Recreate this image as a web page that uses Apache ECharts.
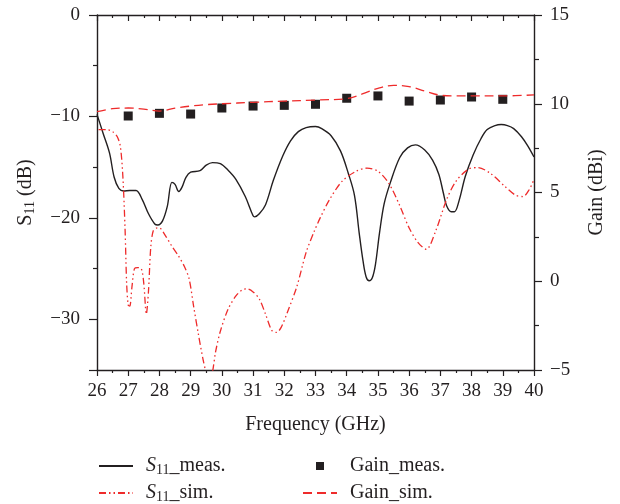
<!DOCTYPE html>
<html>
<head>
<meta charset="utf-8">
<script src="https://cdn.jsdelivr.net/npm/echarts@6/dist/echarts.min.js"></script>
<style>
  html, body { margin: 0; padding: 0; background: #fff; }
  #chart { width: 620px; height: 504px; }
</style>
</head>
<body>
<div id="chart"></div>
<script>
// Measured reflection coefficient S11 (dB) vs frequency (GHz)
const s11MeasFreq = [26.0, 26.2, 26.4, 26.55, 26.7, 26.85, 27.05, 27.25, 27.45, 27.65, 27.85, 27.95, 28.1, 28.25, 28.4, 28.5, 28.62, 28.72, 28.85, 29.0, 29.3, 29.5, 29.7, 29.95, 30.2, 30.45, 30.75, 31.0, 31.05, 31.2, 31.4, 31.65, 31.95, 32.2, 32.45, 32.7, 33.0, 33.2, 33.5, 33.8, 34.05, 34.25, 34.4, 34.52, 34.62, 34.72, 34.82, 34.92, 35.05, 35.2, 35.4, 35.7, 35.95, 36.2, 36.5, 36.75, 36.95, 37.1, 37.2, 37.35, 37.45, 37.6, 37.8, 38.05, 38.3, 38.5, 38.75, 38.95, 39.15, 39.35, 39.6, 39.8, 40.0];
const s11MeasDb = [-9.8, -11.7, -13.6, -16.0, -17.1, -17.35, -17.3, -17.3, -18.2, -19.6, -20.6, -20.7, -20.3, -18.9, -16.5, -16.7, -17.4, -17.0, -16.0, -15.5, -15.35, -14.8, -14.55, -14.65, -15.3, -16.2, -17.9, -19.8, -19.9, -19.6, -18.7, -16.3, -13.9, -12.4, -11.5, -11.1, -11.0, -11.2, -11.9, -13.4, -15.6, -17.8, -21.5, -24.2, -25.8, -26.2, -25.9, -24.6, -21.5, -18.6, -16.5, -14.05, -13.1, -12.8, -13.3, -14.3, -15.7, -17.6, -18.8, -19.4, -19.4, -18.3, -15.9, -13.8, -12.2, -11.3, -10.9, -10.8, -10.9, -11.2, -12.0, -12.9, -14.0];

// Simulated S11 (dB)
const s11SimFreq = [26.05, 26.3, 26.5, 26.65, 26.75, 26.83, 26.9, 26.95, 27.0, 27.05, 27.12, 27.2, 27.3, 27.42, 27.5, 27.58, 27.65, 27.72, 27.8, 27.92, 28.0, 28.2, 28.4, 28.6, 28.8, 28.95, 29.1, 29.25, 29.4, 29.5, 29.6, 29.7, 29.8, 29.95, 30.2, 30.45, 30.65, 30.8, 31.0, 31.2, 31.4, 31.6, 31.75, 31.9, 32.1, 32.4, 32.7, 32.95, 33.15, 33.45, 33.85, 34.3, 34.65, 35.0, 35.35, 35.7, 36.0, 36.3, 36.55, 36.85, 37.2, 37.5, 37.9, 38.2, 38.6, 39.05, 39.4, 39.65, 39.85, 40.0];
const s11SimDb = [-11.3, -11.3, -11.5, -12.0, -13.0, -16.0, -21.2, -26.5, -28.6, -28.7, -26.8, -25.0, -24.9, -25.0, -26.5, -29.5, -27.2, -23.0, -21.3, -21.0, -21.0, -21.8, -22.8, -23.7, -24.8, -26.0, -28.8, -31.5, -34.0, -35.3, -36.2, -35.2, -33.2, -31.2, -29.0, -27.7, -27.1, -27.0, -27.3, -28.0, -29.5, -31.1, -31.3, -30.8, -29.3, -26.8, -23.4, -21.4, -20.0, -18.2, -16.4, -15.4, -15.1, -15.4, -16.6, -18.8, -21.0, -22.5, -23.1, -21.3, -18.2, -16.4, -15.2, -15.05, -15.6, -16.85, -17.75, -17.9, -17.2, -16.2];

// Measured gain (dBi)
const gainMeasFreq = [27, 28, 29, 30, 31, 32, 33, 34, 35, 36, 37, 38, 39];
const gainMeasDbi = [9.31, 9.46, 9.42, 9.76, 9.87, 9.91, 9.97, 10.31, 10.44, 10.15, 10.21, 10.38, 10.25];

// Simulated gain (dBi)
const gainSimFreq = [26.0, 26.5, 27.0, 27.5, 28.0, 28.5, 29.0, 29.5, 30.0, 31.0, 32.0, 33.0, 34.0, 34.5, 35.0, 35.5, 36.0, 36.5, 37.0, 37.5, 38.0, 39.0, 40.0];
const gainSimDbi = [9.55, 9.72, 9.76, 9.7, 9.59, 9.75, 9.87, 9.95, 10.0, 10.08, 10.15, 10.21, 10.29, 10.55, 10.87, 11.04, 10.97, 10.72, 10.48, 10.44, 10.44, 10.44, 10.5];

// Legend names and axis titles
const seriesNames = ['S11_meas.', 'S11_sim.', 'Gain_meas.', 'Gain_sim.'];
const xTitle = 'Frequency (GHz)';
const gainTitle = 'Gain (dBi)';

const zip = (xs, ys) => xs.map((x, i) => [x, ys[i]]);

const INK = '#231f20';
const RED = '#ee2b2b';
const FONT = 'Liberation Serif';
const FS = 19;   // tick labels
const FT = 20;   // titles and legend

const rich = {
  i: { fontStyle: 'italic', fontFamily: FONT, fontSize: FT, color: INK, lineHeight: 22 },
  s: { fontFamily: FONT, fontSize: 14, color: INK, lineHeight: 14, verticalAlign: 'bottom' },
  t: { fontFamily: FONT, fontSize: FT, color: INK, lineHeight: 22 },
  u: { fontFamily: FONT, fontSize: FT, color: INK, lineHeight: 22 }
};

// S11 names: italic S with subscript 11
function richName(name) {
  if (name.indexOf('S11') === 0) return '{i|S}{s|11}{t|' + name.slice(3) + '}';
  return '{t|' + name + '}';
}

function legendFor(name, left, top, itemWidth, itemHeight, textGap, hideMarker) {
  const lg = {
    data: [name],
    left: left,
    top: top,
    padding: 0,
    orient: 'horizontal',
    itemWidth: itemWidth,
    itemHeight: itemHeight,
    selectedMode: false,
    formatter: richName,
    textStyle: { fontFamily: FONT, fontSize: FT, color: INK, padding: [0, 0, 0, textGap], rich: rich }
  };
  // line entries: show only the stroke, no marker in the middle
  if (hideMarker) lg.itemStyle = { color: 'rgba(0,0,0,0)', borderColor: 'rgba(0,0,0,0)', borderWidth: 0 };
  return lg;
}

const axisLineStyle = { color: INK, width: 1.4 };
const labelStyle = { fontFamily: FONT, fontSize: FS, color: INK };
const titleStyle = { fontFamily: FONT, fontSize: FT, color: INK };

const chart = echarts.init(document.getElementById('chart'), null, { renderer: 'canvas' });

chart.setOption({
  animation: false,
  backgroundColor: '#fff',
  grid: { left: 97, top: 15, width: 437, height: 355, containLabel: false },
  legend: [
    legendFor(seriesNames[0], 98, 456, 34, 14, 8, true),
    legendFor(seriesNames[1], 98, 483, 34, 14, 8, true),
    legendFor(seriesNames[2], 316, 456, 8, 8, 21, false),
    legendFor(seriesNames[3], 302, 483, 34, 14, 8, true)
  ],
  xAxis: [
    {
      type: 'value', min: 26, max: 40, interval: 1, position: 'bottom',
      axisLine: { onZero: false, lineStyle: axisLineStyle },
      axisTick: { inside: false, length: 6, lineStyle: { color: INK, width: 1.2 } },
      minorTick: { show: true, splitNumber: 2, length: 3, lineStyle: { color: INK, width: 1.2 } },
      splitLine: { show: false },
      axisLabel: Object.assign({ margin: 12 }, labelStyle),
      name: xTitle, nameLocation: 'middle', nameGap: 45,
      nameTextStyle: titleStyle
    },
    {
      type: 'value', min: 26, max: 40, interval: 1, position: 'top',
      axisLine: { onZero: false, lineStyle: axisLineStyle },
      axisTick: { inside: true, length: 6, lineStyle: { color: INK, width: 1.2 } },
      minorTick: { show: true, splitNumber: 2, length: 3, lineStyle: { color: INK, width: 1.2 } },
      splitLine: { show: false },
      axisLabel: { show: false }
    }
  ],
  yAxis: [
    // S11 scale used by the data
    { type: 'value', min: -35, max: 0, show: false, splitLine: { show: false } },
    // Gain scale (right)
    {
      type: 'value', min: -5, max: 15, interval: 5, position: 'right',
      axisLine: { show: true, onZero: false, lineStyle: axisLineStyle },
      axisTick: { show: true, inside: false, length: 8, lineStyle: { color: INK, width: 1.2 } },
      minorTick: { show: true, splitNumber: 2, length: 5, lineStyle: { color: INK, width: 1.2 } },
      splitLine: { show: false },
      axisLabel: Object.assign({ margin: 16, formatter: v => (v < 0 ? '\u2212' + Math.abs(v) : String(v)) }, labelStyle),
      name: gainTitle, nameLocation: 'middle', nameRotate: 90, nameGap: 53,
      nameTextStyle: titleStyle
    },
    // S11 ticks and labels (left), depth in dB measured downward from 0
    {
      type: 'value', min: 0, max: 35, interval: 10, inverse: true, position: 'left',
      axisLine: { show: true, onZero: false, lineStyle: axisLineStyle },
      axisTick: { show: true, inside: false, length: 8, lineStyle: { color: INK, width: 1.2 } },
      minorTick: { show: true, splitNumber: 2, length: 4, lineStyle: { color: INK, width: 1.2 } },
      splitLine: { show: false },
      axisLabel: Object.assign({ margin: 17, showMaxLabel: false, formatter: v => (v === 0 ? '0' : '\u2212' + v) }, labelStyle),
      name: '{u|S}{s|11}{u| (dB)}', nameLocation: 'middle', nameRotate: 90, nameGap: 60,
      nameTextStyle: Object.assign({ rich: rich }, titleStyle)
    }
  ],
  series: [
    {
      name: seriesNames[0], type: 'line', xAxisIndex: 0, yAxisIndex: 0,
      data: zip(s11MeasFreq, s11MeasDb), symbol: 'none', smooth: 0.35,
      lineStyle: { color: INK, width: 1.4, type: 'solid' }, itemStyle: { color: INK }
    },
    {
      name: seriesNames[1], type: 'line', xAxisIndex: 0, yAxisIndex: 0,
      data: zip(s11SimFreq, s11SimDb), symbol: 'none', smooth: 0.3,
      lineStyle: { color: RED, width: 1.3, type: [7, 3, 1.5, 3, 1.5, 3] }, itemStyle: { color: RED }
    },
    {
      name: seriesNames[2], type: 'scatter', xAxisIndex: 0, yAxisIndex: 1,
      data: zip(gainMeasFreq, gainMeasDbi), symbol: 'rect', symbolSize: 9,
      itemStyle: { color: INK, opacity: 1 }
    },
    {
      name: seriesNames[3], type: 'line', xAxisIndex: 0, yAxisIndex: 1,
      data: zip(gainSimFreq, gainSimDbi), symbol: 'none', smooth: 0.35,
      lineStyle: { color: RED, width: 1.3, type: [9, 5] }, itemStyle: { color: RED }
    }
  ]
});
</script>
</body>
</html>
